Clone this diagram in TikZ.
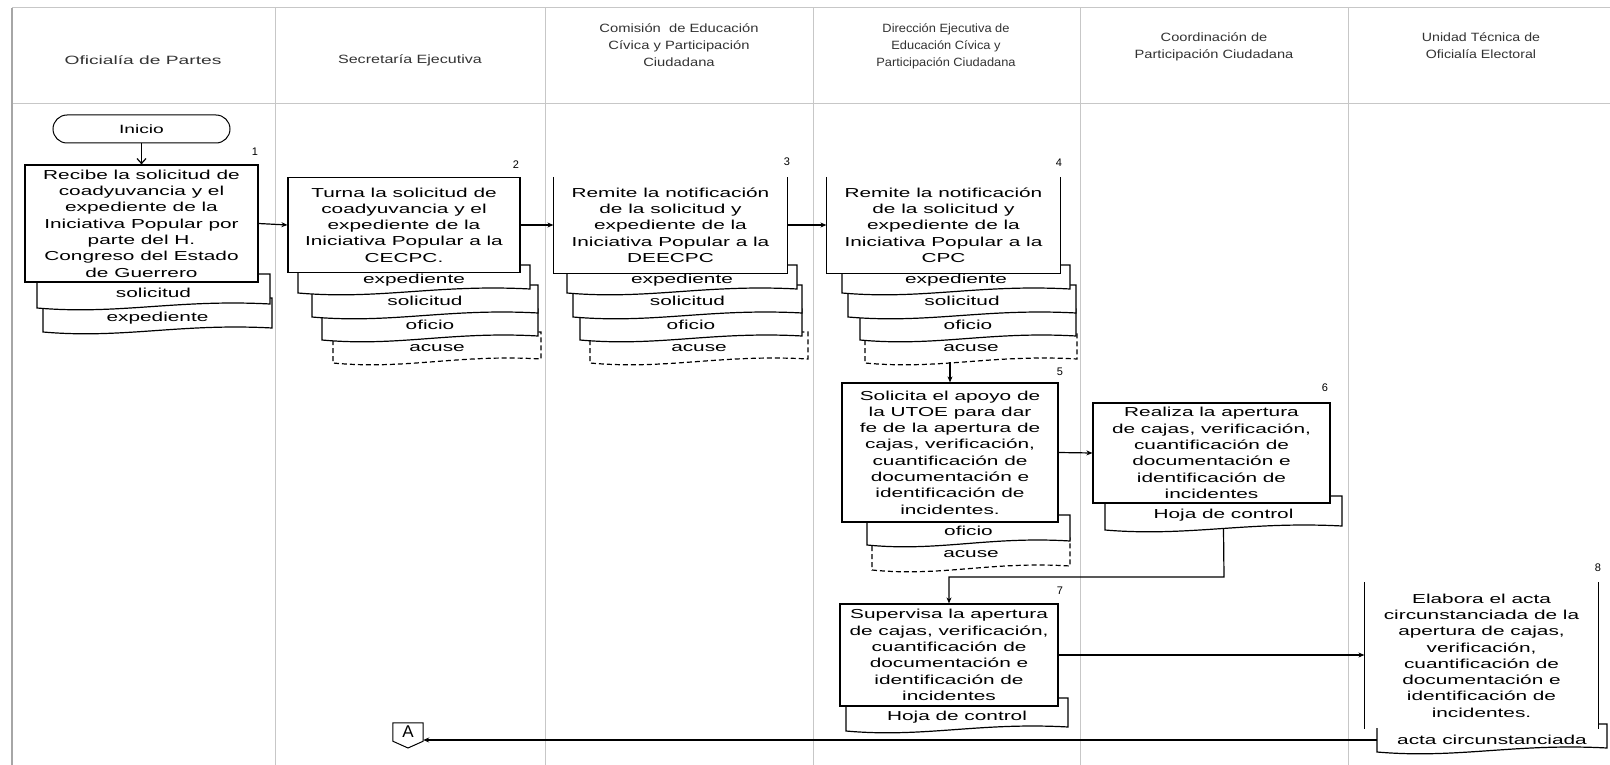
\documentclass[tikz,border=0pt]{standalone}
\usepackage{fontspec}
\usepackage{graphicx}
\setmainfont{Liberation Sans}
\newfontfamily\wf[FakeStretch=1.6]{Liberation Sans}
\usetikzlibrary{arrows.meta,calc}
\tikzset{
  lane/.style={draw=black!22, line width=1pt},
  box/.style={draw, line width=1.2pt, fill=white, align=center, inner sep=0pt,
    font=\wf\fontsize{13}{16.3}\selectfont},
  openbox/.style={box, draw=none},
  doctext/.style={font=\wf\fontsize{13}{15}\selectfont, inner sep=0pt},
  docline/.style={line width=1.2pt},
  num/.style={font=\fontsize{11}{12}\selectfont, inner sep=0pt},
  hdr/.style={font=\fontsize{12}{17}\selectfont, text=black!80, inner sep=0pt},
  arr/.style={line width=1.2pt, -{Stealth[length=6pt,width=5pt]}},
  term/.style={draw, line width=1pt, rounded corners=14pt, minimum width=177pt,
    minimum height=28pt, font=\wf\fontsize{12}{14}\selectfont},
  dsh/.style={dash pattern=on 5pt off 3pt}
}
% #1 style, #2 name, #3 x1, #4 x2, #5 ytop, #6 ybottom, #7 text y, #8 text
\newcommand\docshape[8][]{%
  \filldraw[fill=white, docline, #1] (#3,#5) -- (#3,#6)
    .. controls ({#3+0.35*(#4-#3)},{#6+7}) and ({#3+0.6*(#4-#3)},{#6-9}) .. (#4,{#6-4})
    -- (#4,#5) -- cycle;
  \node[doctext] (#2) at ({(#3+#4)/2},#7) {#8};
  \coordinate (#2-b) at ({(#3+#4)/2},{#6-1});
  \coordinate (#2-l) at (#3,#7);
}
\begin{document}
\begin{tikzpicture}[x=1pt,y=-1pt]
\useasboundingbox (0,0) rectangle (1610,765);
\fill[white] (0,0) rectangle (1610,765);
% lanes
\draw[lane] (12,8) -- (1610,8);
\draw[lane] (12,104) -- (1610,104);
\foreach \lx in {275,545,813,1080,1348} {\draw[lane] (\lx,8) -- (\lx,765);}
\draw[line width=2pt, draw=black!35] (12,8) -- (12,765);
% headers
\node[hdr] (h1) at (143,60) {\scalebox{1.6}[1]{Oficialía de Partes}};
\node[hdr] (h2) at (410,60) {\scalebox{1.34}[1]{Secretaría Ejecutiva}};
\node[hdr] (h3) at (679,46.5) {\scalebox{1.23}[1]{\begin{tabular}{@{}c@{}}Comisión\ \ de Educación\\Cívica y Participación\\Ciudadana\end{tabular}}};
\node[hdr] (h4) at (946,46.5) {\scalebox{1.07}[1]{\begin{tabular}{@{}c@{}}Dirección Ejecutiva de\\Educación Cívica y\\Participación Ciudadana\end{tabular}}};
\node[hdr] (h5) at (1214,46.5) {\scalebox{1.22}[1]{\begin{tabular}{@{}c@{}}Coordinación de\\Participación Ciudadana\end{tabular}}};
\node[hdr] (h6) at (1481,46.5) {\scalebox{1.18}[1]{\begin{tabular}{@{}c@{}}Unidad Técnica de\\Oficialía Electoral\end{tabular}}};
% start
\node[term] (ini) at (141.5,129) {Inicio};
% group 1
\docshape{d1b}{43}{272}{298}{332}{318}{expediente}
\docshape{d1a}{37}{270}{274}{308}{293}{solicitud}
\node[box, minimum width=233pt, minimum height=117pt] (b1) at (141.5,223.5)
  {Recibe la solicitud de\\coadyuvancia y el\\expediente de la\\Iniciativa Popular por\\parte del H.\\Congreso del Estado\\de Guerrero};
\node[num] (n1) at (255,152) {1};
% group 2
\docshape[dsh]{d2d}{333}{541}{332}{363}{348}{acuse}
\docshape{d2c}{322}{538}{309}{340}{325}{oficio}
\docshape{d2b}{312}{538}{285}{317}{301}{solicitud}
\docshape{d2a}{298}{530}{265}{293}{280}{expediente}
\node[box, minimum width=232pt, minimum height=95pt] (b2) at (404,225)
  {Turna la solicitud de\\coadyuvancia y el\\expediente de la\\Iniciativa Popular a la\\CECPC.};
\node[num] (n2) at (516,165) {2};
% group 3
\docshape[dsh]{d3d}{590}{808}{332}{363}{348}{acuse}
\docshape{d3c}{580}{802}{309}{340}{325}{oficio}
\docshape{d3b}{573}{802}{285}{317}{301}{solicitud}
\docshape{d3a}{567}{797}{265}{293}{280}{expediente}
\node[openbox, minimum width=233pt, minimum height=95pt] (b3) at (670.5,225)
  {Remite la notificación\\de la solicitud y\\expediente de la\\Iniciativa Popular a la\\DEECPC};
\draw[line width=1.2pt] (b3.north west) -- (b3.south west) -- (b3.south east) -- (b3.north east);
\node[num] (n3) at (787,162) {3};
% group 4
\docshape[dsh]{d4d}{865}{1077}{332}{363}{348}{acuse}
\docshape{d4c}{860}{1076}{309}{340}{325}{oficio}
\docshape{d4b}{848}{1076}{285}{317}{301}{solicitud}
\docshape{d4a}{842}{1070}{265}{293}{280}{expediente}
\node[openbox, minimum width=233pt, minimum height=95pt] (b4) at (943.5,225)
  {Remite la notificación\\de la solicitud y\\expediente de la\\Iniciativa Popular a la\\CPC};
\draw[line width=1.2pt] (b4.north west) -- (b4.south west) -- (b4.south east) -- (b4.north east);
\node[num] (n4) at (1059,163) {4};
% group 5
\docshape[dsh]{d5b}{872}{1070}{538}{570}{554}{acuse}
\docshape{d5a}{867}{1070}{515}{545}{531}{oficio}
\node[box, minimum width=216pt, minimum height=139pt] (b5) at (950,452.5)
  {Solicita el apoyo de\\la UTOE para dar\\fe de la apertura de\\cajas, verificación,\\cuantificación de\\documentación e\\identificación de\\incidentes.};
\node[num] (n5) at (1060,372) {5};
% group 6
\docshape{d6a}{1105}{1342}{496}{530}{515}{Hoja de control}
\node[box, minimum width=237pt, minimum height=100pt] (b6) at (1211.5,453)
  {Realiza la apertura\\de cajas, verificación,\\cuantificación de\\documentación e\\identificación de\\incidentes};
\node[num] (n6) at (1325,388) {6};
% group 7
\docshape{d7a}{846}{1068}{698}{731}{717}{Hoja de control}
\node[box, minimum width=218pt, minimum height=102pt] (b7) at (949,655)
  {Supervisa la apertura\\de cajas, verificación,\\cuantificación de\\documentación e\\identificación de\\incidentes};
\node[num] (n7) at (1060,591) {7};
% group 8
\docshape{d8a}{1377}{1607}{724}{752}{740}{acta circunstanciada}
\node[openbox, minimum width=233pt, minimum height=145pt] (b8) at (1481.5,655.5)
  {Elabora el acta\\circunstanciada de la\\apertura de cajas,\\verificación,\\cuantificación de\\documentación e\\identificación de\\incidentes.};
\draw[line width=1.2pt] (b8.north west) -- (b8.south west);
\draw[line width=1.2pt] (b8.north east) -- (b8.south east);
\node[num] (n8) at (1598,568) {8};
% off-page connector
\node[font=\fontsize{17}{17}\selectfont, minimum width=30pt, minimum height=18pt, inner sep=0pt] (A) at (408,732) {A};
\coordinate (Ap) at (408,748);
\draw[line width=1pt] (A.north west) -- (A.north east) -- (A.south east) -- (Ap) -- (A.south west) -- cycle;
% connectors
\coordinate (k1) at (1224,577);
\draw[line width=1.2pt, -{Straight Barb[length=5pt,width=9pt]}] (ini.south) -- (b1.north);
\draw[arr] (b1.east) -- (b2.west);
\draw[arr] (b2.east) -- (b3.west);
\draw[arr] (b3.east) -- (b4.west);
\draw[arr] (b5.north |- d4d-b) -- (b5.north);
\draw[arr] (b5.east) -- (b6.west);
\draw[arr] (d6a-b) -- (k1) -| (b7.north);
\draw[arr] (b7.east) -- (b7.east -| b8.west);
\draw[arr] (d8a-l) -- (d8a-l -| A.east);
\end{tikzpicture}
\end{document}
